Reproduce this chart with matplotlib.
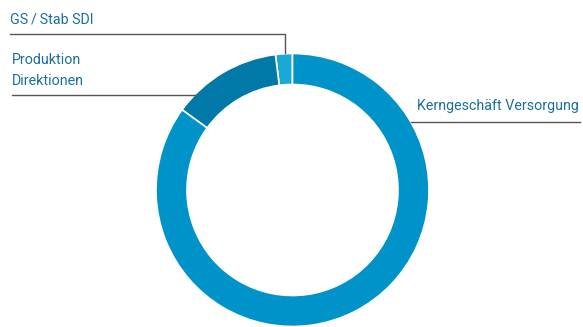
import numpy as np
from matplotlib import pyplot as plt

labels = ['GS\u2009/\u2009Stab SDI', 'Produktion\nDirektionen', 'Kerngeschäft Versorgung']
shares = [2, 13, 85]
colors = ['#1aa8d6', '#0078a8', '#0093c9']

W, H = 583, 327
cx, cy = 292.5, H - 190
r_out, ring = 136.5, 31

text_color = '#1a6f9c'
line_color = '#555555'
font = ['Roboto', 'DejaVu Sans']
fs = 10.3

fig = plt.figure(figsize=(W / 100, H / 100), dpi=100)
ax = fig.add_axes([0, 0, 1, 1])
ax.set_xlim(0, W)
ax.set_ylim(0, H)
ax.set_aspect('equal')
ax.axis('off')

ax.pie(shares, colors=colors, startangle=90, counterclock=True,
       center=(cx, cy), radius=r_out,
       wedgeprops=dict(width=ring, edgecolor='white', linewidth=1.2))
ax.set_xlim(0, W)
ax.set_ylim(0, H)


def rim_x(y, side):
    return cx + side * np.sqrt(r_out ** 2 - (y - cy) ** 2)


# GS / Stab SDI: elbow line down to the small wedge
ax.plot([10, 285, 285], [H - 33.5, H - 33.5, H - 53], color=line_color, lw=1)
ax.text(10, H - 20, labels[0], color=text_color, fontsize=fs,
        family=font, va='center', ha='left')

# Produktion Direktionen
y2 = H - 94.5
ax.plot([12, rim_x(y2, -1)], [y2, y2], color=line_color, lw=1)
ax.text(12, H - 70.5, labels[1], color=text_color, fontsize=fs,
        family=font, va='center', ha='left', linespacing=1.6)

# Kerngeschäft Versorgung
y3 = H - 121.7
ax.plot([rim_x(y3, 1), 580], [y3, y3], color=line_color, lw=1)
ax.text(579, H - 106, labels[2], color=text_color, fontsize=fs,
        family=font, va='center', ha='right')

fig.savefig('out.png', dpi=100)
